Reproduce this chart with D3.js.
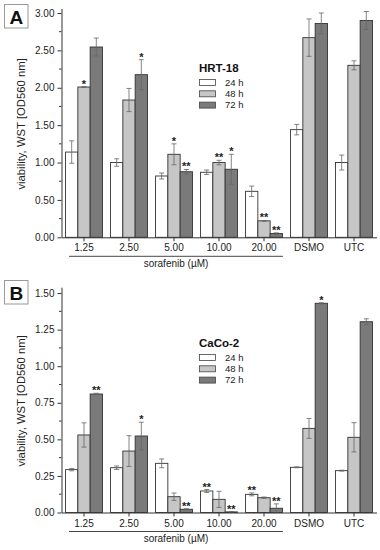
<!DOCTYPE html>
<html>
<head>
<meta charset="utf-8">
<script src="https://cdn.jsdelivr.net/npm/d3@7"></script>
<style>
  body { margin: 0; background: #fff; }
  svg { display: block; font-family: "Liberation Sans", Arial, sans-serif; }
</style>
</head>
<body>
<svg width="380" height="550"></svg>
<script>
var groups = ["1.25", "2.50", "5.00", "10.00", "20.00", "DSMO", "UTC"];
var series = ["24 h", "48 h", "72 h"];
var fills = ["#ffffff", "#c6c6c6", "#7a7a7a"];

// panel A - HRT-18
var hrt24 = [1.14, 1.00, 0.82, 0.87, 0.615, 1.44, 1.00];
var hrt48 = [2.01, 1.836, 1.11, 1.00, 0.22, 2.67, 2.30];
var hrt72 = [2.545, 2.175, 0.877, 0.91, 0.05, 2.86, 2.90];
var hrt24err = [0.15, 0.05, 0.04, 0.03, 0.07, 0.07, 0.10];
var hrt48err = [0.005, 0.155, 0.14, 0.03, 0.005, 0.25, 0.06];
var hrt72err = [0.12, 0.20, 0.03, 0.20, 0.01, 0.14, 0.12];
var hrt24star = ["", "", "", "", "", "", ""];
var hrt48star = ["*", "", "*", "**", "**", "", ""];
var hrt72star = ["", "*", "**", "*", "**", "", ""];
var hrtTicks = [0, 0.5, 1.0, 1.5, 2.0, 2.5, 3.0];

// panel B - CaCo-2
var caco24 = [0.293, 0.306, 0.336, 0.147, 0.124, 0.309, 0.286];
var caco48 = [0.53, 0.42, 0.108, 0.09, 0.101, 0.575, 0.514];
var caco72 = [0.81, 0.523, 0.022, 0.004, 0.029, 1.43, 1.304];
var caco24err = [0.008, 0.012, 0.03, 0.01, 0.01, 0.003, 0.003];
var caco48err = [0.083, 0.105, 0.025, 0.055, 0.005, 0.068, 0.10];
var caco72err = [0.005, 0.094, 0.004, 0.002, 0.03, 0.004, 0.02];
var caco24star = ["", "", "", "**", "**", "", ""];
var caco48star = ["", "", "", "", "", "", ""];
var caco72star = ["**", "*", "**", "**", "**", "*", ""];
var cacoTicks = [0, 0.25, 0.5, 0.75, 1.0, 1.25, 1.5];

var svg = d3.select("svg");

function drawPanel(p) {
    var g = svg.append("g");

    var x = d3.scaleBand().domain(groups).range([61.5, 376.5]).paddingInner(0.18).paddingOuter(0.09);
    var xs = d3.scaleBand().domain(series).range([0, x.bandwidth()]);
    var y = d3.scaleLinear().domain([0, p.ymax]).range([p.y0, p.ytop]);

    var rows = [];
    groups.forEach(function(grp, i) {
        series.forEach(function(s, j) {
            rows.push({grp: grp, s: s, j: j, v: p.vals[j][i], e: p.errs[j][i], star: p.stars[j][i]});
        });
    });

    // bars
    g.selectAll(".bar").data(rows).enter().append("rect")
        .attr("class", "bar")
        .attr("x", function(d) { return x(d.grp) + xs(d.s); })
        .attr("y", function(d) { return y(d.v); })
        .attr("width", xs.bandwidth())
        .attr("height", function(d) { return y(0) - y(d.v); })
        .attr("fill", function(d) { return fills[d.j]; })
        .attr("stroke", "#333")
        .attr("stroke-width", 0.9);

    // error bars
    var eb = g.selectAll(".err").data(rows).enter().append("g")
        .attr("class", "err")
        .attr("stroke", "#666")
        .attr("stroke-width", 0.8);
    eb.append("line")
        .attr("x1", function(d) { return x(d.grp) + xs(d.s) + xs.bandwidth() / 2; })
        .attr("x2", function(d) { return x(d.grp) + xs(d.s) + xs.bandwidth() / 2; })
        .attr("y1", function(d) { return y(d.v - d.e); })
        .attr("y2", function(d) { return y(d.v + d.e); });
    [-1, 1].forEach(function(sgn) {
        eb.append("line")
            .attr("x1", function(d) { return x(d.grp) + xs(d.s) + xs.bandwidth() / 2 - 2.5; })
            .attr("x2", function(d) { return x(d.grp) + xs(d.s) + xs.bandwidth() / 2 + 2.5; })
            .attr("y1", function(d) { return y(d.v + sgn * d.e); })
            .attr("y2", function(d) { return y(d.v + sgn * d.e); });
    });

    // significance stars
    g.selectAll(".star").data(rows.filter(function(d) { return d.star; })).enter().append("text")
        .attr("class", "star")
        .attr("x", function(d) { return x(d.grp) + xs(d.s) + xs.bandwidth() / 2; })
        .attr("y", function(d) { return y(d.v + d.e) + 1; })
        .attr("text-anchor", "middle")
        .attr("font-size", 11)
        .attr("font-weight", "bold")
        .attr("fill", "#222")
        .text(function(d) { return d.star; });

    // y axis
    var ya = g.append("g")
        .attr("transform", "translate(61.5,0)")
        .call(d3.axisLeft(y).tickValues(p.ticks).tickFormat(d3.format(".2f")).tickSize(4).tickSizeOuter(0));
    var minor = p.ticks.slice(1).map(function(t, i) { return (t + p.ticks[i]) / 2; });
    ya.selectAll(".minor").data(minor).enter().append("line")
        .attr("class", "minor")
        .attr("x1", -2.5).attr("x2", 0)
        .attr("y1", function(d) { return y(d); })
        .attr("y2", function(d) { return y(d); })
        .attr("stroke", "#333");
    ya.selectAll("text").attr("font-size", 10).attr("fill", "#222").attr("font-family", "Liberation Sans, Arial, sans-serif");
    ya.selectAll("path, line").attr("stroke", "#333");

    // x axis
    var xa = g.append("g")
        .attr("transform", "translate(0," + p.y0 + ")")
        .call(d3.axisBottom(x).tickSize(4).tickSizeOuter(0));
    xa.selectAll("text").attr("font-size", 10).attr("fill", "#222").attr("font-family", "Liberation Sans, Arial, sans-serif");
    xa.selectAll("path, line").attr("stroke", "#333");

    // sorafenib bracket
    var x0 = x("1.25") + 3.5, x1 = x("20.00") + x.bandwidth() + 0.5;
    g.append("line")
        .attr("x1", x0).attr("x2", x1)
        .attr("y1", p.y0 + 19).attr("y2", p.y0 + 19)
        .attr("stroke", "#333").attr("stroke-width", 0.9);
    g.append("text")
        .attr("x", (x0 + x1) / 2).attr("y", p.y0 + 29.5)
        .attr("text-anchor", "middle")
        .attr("font-size", 10).attr("fill", "#222")
        .text("sorafenib (\u00b5M)");

    // y label
    g.append("text")
        .attr("transform", "translate(25," + ((p.y0 + p.ytop) / 2 + 1) + ") rotate(-90)")
        .attr("text-anchor", "middle")
        .attr("font-size", 11.3).attr("fill", "#222")
        .text("viability, WST [OD560 nm]");

    // panel letter
    g.append("rect")
        .attr("x", 4.5).attr("y", p.boxY + 0.5).attr("width", 23.5).attr("height", 23.5)
        .attr("fill", "#fff").attr("stroke", "#999").attr("stroke-width", 1);
    g.append("text")
        .attr("x", 16.3).attr("y", p.boxY + 20)
        .attr("text-anchor", "middle")
        .attr("font-size", 19).attr("font-weight", "bold").attr("fill", "#111")
        .text(p.letter);

    // legend
    var lg = g.append("g").attr("transform", "translate(199," + p.legY + ")");
    lg.append("text")
        .attr("x", 0).attr("y", 0)
        .attr("font-size", 11.5).attr("font-weight", "bold").attr("fill", "#111")
        .text(p.title);
    series.forEach(function(s, j) {
        lg.append("rect")
            .attr("x", 0.5).attr("y", 7.5 + j * 11.3).attr("width", 16).attr("height", 6)
            .attr("fill", fills[j]).attr("stroke", "#444").attr("stroke-width", 0.8);
        lg.append("text")
            .attr("x", 26).attr("y", 13.5 + j * 11.3)
            .attr("font-size", 9.5).attr("fill", "#222")
            .text(s);
    });
}

drawPanel({
    letter: "A", title: "HRT-18",
    vals: [hrt24, hrt48, hrt72], errs: [hrt24err, hrt48err, hrt72err], stars: [hrt24star, hrt48star, hrt72star],
    ticks: hrtTicks, ymax: 3.06, y0: 237.3, ytop: 8.5, boxY: 4, legY: 72
});
drawPanel({
    letter: "B", title: "CaCo-2",
    vals: [caco24, caco48, caco72], errs: [caco24err, caco48err, caco72err], stars: [caco24star, caco48star, caco72star],
    ticks: cacoTicks, ymax: 1.54, y0: 512.5, ytop: 287.2, boxY: 280, legY: 347
});
</script>
</body>
</html>
